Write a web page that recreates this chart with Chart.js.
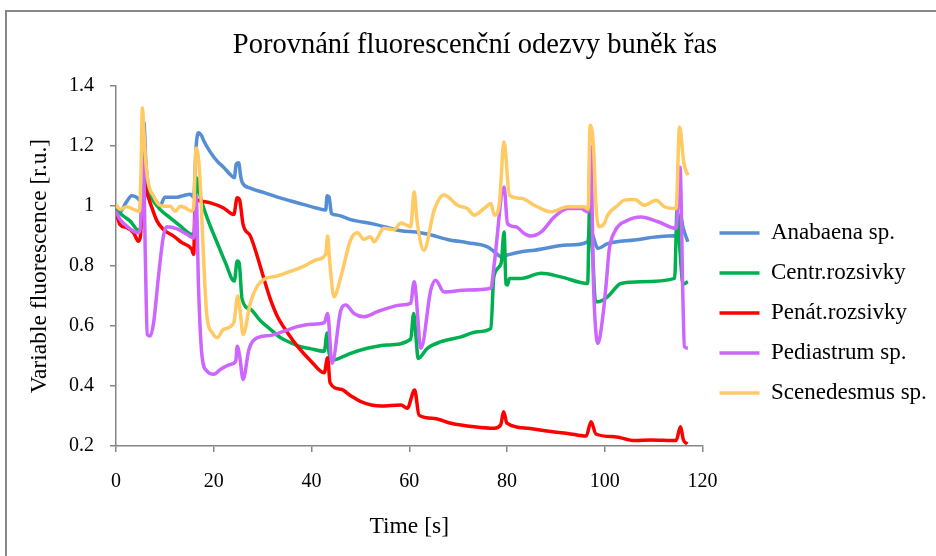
<!DOCTYPE html>
<html>
<head>
<meta charset="utf-8">
<script src="https://cdn.jsdelivr.net/npm/chart.js@4.4.1/dist/chart.umd.min.js"></script>
<style>
  html, body { margin: 0; padding: 0; background: #fff; overflow: hidden; }
  #wrap { position: relative; width: 936px; height: 556px; overflow: hidden; }
  #frame { position: absolute; left: 5px; top: 10px; width: 1000px; height: 1000px;
           border-left: 2px solid #878787; border-top: 2px solid #878787; box-sizing: border-box; }
  canvas { position: absolute; left: 0; top: 0; }
</style>
</head>
<body>
<div id="wrap">
  <div id="frame"></div>
  <canvas id="chart" width="936" height="556"></canvas>
</div>
<script>
// Series names (legend order)
const seriesNames = ['Anabaena sp.', 'Centr.rozsivky', 'Penát.rozsivky', 'Pediastrum sp.', 'Scenedesmus sp.'];

// [time s, variable fluorescence r.u.]
const anabaena = [
  [0,0.99],[0.8,0.98],[2,1.01],[3.2,1.035],[4.2,1.03],[4.9,1.02],[5.3,1.1],[5.7,1.28],[6.1,1.15],[6.5,1.08],
  [7.7,1.03],[8.5,1.01],[9,1.0],[10,1.03],[11.1,1.03],[12.5,1.03],[13.8,1.035],[15.2,1.04],[15.9,1.03],[16.4,1.2],
  [16.9,1.245],[17.5,1.235],[17.9,1.22],[19.3,1.18],[20.7,1.15],[22,1.13],[23.4,1.105],[24.2,1.095],[24.6,1.14],[25.1,1.145],
  [25.5,1.1],[25.8,1.08],[27.5,1.06],[30.3,1.045],[33,1.03],[35.8,1.017],[38.5,1.005],[41.2,0.993],[42.9,0.987],[43.2,1.035],
  [43.6,1.03],[44.1,0.975],[45.3,0.97],[48,0.955],[52.8,0.94],[58.3,0.918],[61.3,0.914],[63.7,0.907],[67.8,0.889],[71.9,0.878],
  [76,0.864],[77.4,0.848],[78.8,0.831],[80.1,0.837],[82.9,0.848],[85.6,0.853],[92.4,0.87],[96.5,0.881],[97,0.93],[97.6,0.9],
  [98.6,0.859],[100.6,0.875],[106.1,0.887],[112.9,0.9],[115,0.903],[115.5,0.97],[116,0.93],[117,0.881]
];
const centrRozsivky = [
  [0,0.99],[1.5,0.967],[2.9,0.95],[4.6,0.92],[5.1,0.93],[5.6,1.1],[6.2,1.06],[7,1.033],[9,0.989],[11.1,0.961],
  [13.2,0.933],[15.5,0.906],[16,0.91],[16.5,1.094],[17,1.05],[17.6,1.011],[19.3,0.933],[20.7,0.878],[22.4,0.811],[24.2,0.75],
  [24.8,0.817],[25.2,0.81],[25.8,0.689],[27.5,0.656],[29.6,0.617],[31.6,0.589],[33.7,0.561],[35.8,0.544],[37.8,0.531],[39.9,0.524],
  [42.6,0.516],[43.2,0.577],[43.6,0.51],[44.4,0.487],[46.7,0.5],[48,0.509],[51.4,0.526],[55.5,0.537],[60.3,0.556],[60.9,0.642],
  [61.4,0.56],[61.8,0.492],[63.7,0.526],[66.5,0.548],[70.6,0.564],[74,0.581],[76.7,0.592],[77.3,0.764],[78.8,0.809],[79.4,0.914],
  [79.8,0.74],[80.1,0.737],[80.5,0.759],[82.9,0.759],[87,0.776],[91,0.764],[96.5,0.742],[96.9,0.998],[97.5,0.85],[98.1,0.681],
  [98.6,0.681],[100.6,0.698],[103.3,0.742],[107.4,0.748],[114.3,0.759],[114.8,0.987],[115.4,0.85],[116,0.74],[117,0.748]
];
const penatRozsivky = [
  [0,0.983],[0.8,0.939],[2.2,0.928],[3.6,0.911],[4.6,0.883],[5,0.9],[5.6,1.089],[6.2,1.05],[7,1.011],[8.4,0.95],
  [9.7,0.922],[11.8,0.9],[13.5,0.878],[15.5,0.856],[15.9,0.839],[16.2,1.022],[17.3,1.017],[19.3,1.011],[22,0.994],[24.1,0.972],
  [24.8,1.028],[25.3,1.02],[26,0.939],[27.5,0.9],[28.9,0.833],[30.3,0.756],[31.6,0.689],[33,0.633],[35.1,0.578],[37.1,0.533],
  [39.9,0.483],[42.6,0.444],[43.3,0.494],[43.8,0.411],[46,0.389],[48.1,0.367],[50.1,0.348],[54.2,0.333],[58.3,0.337],[59.6,0.326],
  [61.1,0.387],[62,0.303],[65.1,0.292],[68.5,0.276],[73.3,0.264],[77.4,0.259],[78.7,0.27],[79.3,0.314],[80,0.276],[84.2,0.259],
  [89,0.248],[92.4,0.242],[96.2,0.233],[97.2,0.281],[98.2,0.24],[102,0.231],[106.1,0.218],[109.5,0.22],[114.6,0.218],[115.5,0.264],
  [116.1,0.22],[116.9,0.207]
];
const pediastrum = [
  [0,0.983],[0.8,0.956],[2.2,0.933],[4.6,0.911],[5,0.93],[5.6,1.15],[6,0.833],[6.4,0.572],[7,0.567],[7.7,0.611],
  [8.7,0.767],[9.7,0.9],[10.4,0.931],[12.5,0.924],[14.5,0.906],[15.9,0.894],[16.4,1.033],[16.9,0.722],[17.6,0.5],[18.6,0.45],
  [20,0.439],[21.4,0.456],[23.4,0.472],[24.5,0.483],[24.8,0.533],[25.3,0.5],[26,0.422],[27.2,0.522],[28.9,0.561],[31.6,0.569],
  [34.4,0.583],[37.1,0.598],[39.9,0.606],[42.6,0.611],[43.3,0.642],[44.2,0.476],[46,0.653],[47,0.67],[48.7,0.642],[50.7,0.631],
  [53.5,0.648],[55.5,0.659],[58.3,0.67],[60.3,0.676],[61,0.748],[62.4,0.526],[64.4,0.72],[65.4,0.753],[67.1,0.714],[71.9,0.72],
  [76.7,0.726],[77.4,0.809],[79.4,1.064],[80.1,0.942],[81.8,0.931],[83.5,0.909],[84.9,0.9],[87,0.914],[89.7,0.964],[92.4,0.992],
  [95.1,0.992],[96.6,0.981],[97.1,1.2],[97.7,0.742],[98.1,0.598],[98.6,0.542],[99.6,0.631],[100.3,0.742],[100.9,0.853],[102,0.914],
  [104.7,0.953],[107.4,0.964],[110.9,0.948],[114.6,0.926],[115.4,1.13],[116,0.687],[116.3,0.531],[117,0.526]
];
const scenedesmus = [
  [0,1.006],[0.8,0.989],[2.2,0.998],[3.6,0.989],[4.8,0.983],[5.1,1.1],[5.4,1.328],[5.7,1.25],[6,1.167],[6.6,1.078],
  [7.7,1.033],[8.7,1.006],[9.7,1.0],[11.1,1.0],[12.1,0.983],[13.2,1.0],[14.2,0.994],[15.5,0.983],[15.9,1.0],[16.4,1.194],
  [16.8,1.17],[17.3,1.056],[17.9,0.833],[18.6,0.633],[19.7,0.578],[20.7,0.561],[22,0.589],[24.1,0.611],[24.9,0.7],[25.4,0.65],
  [26,0.572],[27.5,0.678],[28.9,0.733],[30.3,0.756],[33,0.767],[35.8,0.783],[38.5,0.8],[41.2,0.822],[42.9,0.839],[43.3,0.9],
  [43.7,0.82],[44.6,0.698],[46,0.764],[48,0.887],[49.4,0.911],[50.7,0.889],[52.1,0.898],[52.8,0.881],[54.8,0.926],[56.9,0.922],
  [58.3,0.944],[60.3,0.931],[61,1.048],[61.6,0.95],[63,0.853],[65.1,0.987],[67.1,1.037],[69.9,1.003],[71.9,0.992],[73.3,0.97],
  [75.3,0.992],[76.7,1.009],[77.4,0.97],[78.4,1.003],[79.4,1.214],[80.5,1.037],[82.9,1.026],[85.6,1.003],[89,0.981],[92.4,0.998],
  [95.8,0.998],[96.6,0.99],[97,1.27],[97.7,1.198],[98.2,1.0],[98.9,0.931],[99.9,0.942],[100.6,0.97],[102.7,1.003],[104,1.02],
  [106.1,1.022],[108.1,1.003],[110.5,1.02],[112.2,0.998],[114.6,0.992],[115.3,1.264],[116.2,1.142],[117,1.103]
];

const seriesData = [anabaena, centrRozsivky, penatRozsivky, pediastrum, scenedesmus];
const seriesColors = ['#558ED5', '#00B050', '#FF0000', '#CC66FF', '#FFC964'];

// Axis ticks
const xTicks = [0, 20, 40, 60, 80, 100, 120];
const yTicks = [0.2, 0.4, 0.6, 0.8, 1.0, 1.2, 1.4];

const serif = 'Liberation Serif';
const axisGrey = '#868686';

const datasets = seriesNames.map((name, i) => ({
  label: name,
  data: seriesData[i],
  borderColor: seriesColors[i],
  backgroundColor: seriesColors[i],
  borderWidth: 3.5,
  pointRadius: 0,
  fill: false,
  cubicInterpolationMode: 'monotone',
  borderJoinStyle: 'round',
  order: seriesNames.length - i   // later series are painted over earlier ones
}));

new Chart(document.getElementById('chart'), {
  type: 'line',
  data: { datasets },
  options: {
    responsive: false,
    animation: false,
    devicePixelRatio: 1,
    layout: { padding: { left: 20, right: 6 } },
    plugins: {
      tooltip: { enabled: false },
      title: {
        display: true,
        text: 'Porovnání fluorescenční odezvy buněk řas',
        color: '#000',
        font: { family: serif, size: 28.5, weight: 'normal' },
        padding: { top: 28, bottom: 24 }
      },
      legend: {
        position: 'right',
        align: 'center',
        title: { display: true, text: '', font: { size: 10 }, padding: { top: 58, bottom: 0 } },
        labels: {
          usePointStyle: true,
          pointStyle: 'line',
          pointStyleWidth: 40,
          padding: 17,
          color: '#000',
          font: { family: serif, size: 23 },
          sort: (a, b) => a.datasetIndex - b.datasetIndex
        }
      }
    },
    scales: {
      x: {
        type: 'linear',
        min: xTicks[0],
        max: xTicks[xTicks.length - 1],
        afterBuildTicks: s => { s.ticks = xTicks.map(v => ({ value: v })); },
        afterFit: s => { s.height = 110; },
        ticks: { padding: 18, maxRotation: 0, color: '#000', font: { family: serif, size: 20 } },
        grid: { display: true, drawOnChartArea: false, drawTicks: true, tickLength: 6, color: axisGrey, lineWidth: 1.5 },
        border: { display: true, color: axisGrey, width: 1.5 },
        title: { display: true, text: 'Time [s]', color: '#000', font: { family: serif, size: 23.5 }, padding: { top: 0, bottom: 15 } }
      },
      y: {
        type: 'linear',
        min: yTicks[0],
        max: yTicks[yTicks.length - 1],
        afterBuildTicks: s => { s.ticks = yTicks.map(v => ({ value: v })); },
        afterFit: s => { s.width = 96; },
        ticks: { padding: 16, color: '#000', font: { family: serif, size: 20 },
                 callback: v => String(+Number(v).toFixed(1)) },
        grid: { display: true, drawOnChartArea: false, drawTicks: true, tickLength: 6, color: axisGrey, lineWidth: 1.5 },
        border: { display: true, color: axisGrey, width: 1.5 },
        title: { display: true, text: 'Variable fluorescence [r.u.]', color: '#000', font: { family: serif, size: 23.5 }, padding: { top: 6, bottom: 0 } }
      }
    }
  }
});
</script>
</body>
</html>
